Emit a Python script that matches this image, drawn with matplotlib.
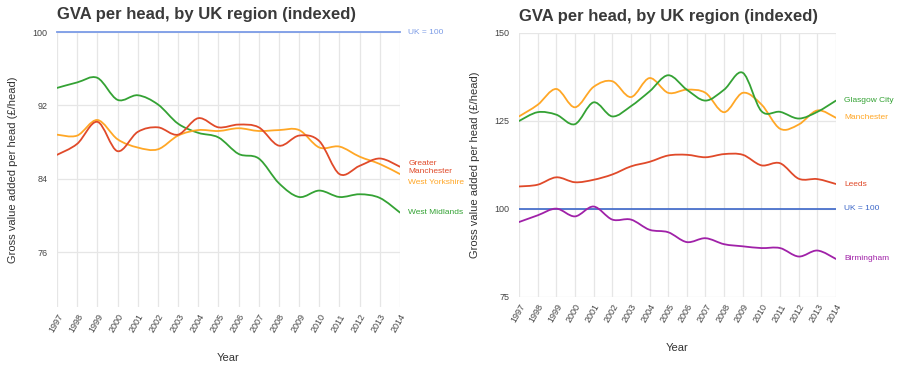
import numpy as np
import matplotlib
matplotlib.use("Agg")
import matplotlib.pyplot as plt
from matplotlib.path import Path
from matplotlib.patches import PathPatch

plt.rcParams['font.family'] = ['Liberation Sans', 'DejaVu Sans']

years = list(range(1997, 2015))

# Gráfico izquierdo: regiones
west_midlands = [93.9, 94.5, 95.0, 92.6, 93.1, 92.1, 90.0, 89.0, 88.5, 86.7,
                 86.2, 83.5, 82.0, 82.7, 82.0, 82.3, 81.9, 80.3]
greater_manchester = [86.6, 87.8, 90.2, 87.0, 89.1, 89.6, 88.8, 90.6, 89.6, 89.9,
                      89.6, 87.6, 88.7, 88.1, 84.5, 85.4, 86.2, 85.3]
west_yorkshire = [88.8, 88.7, 90.4, 88.3, 87.4, 87.2, 88.7, 89.3, 89.2, 89.5,
                  89.2, 89.3, 89.3, 87.4, 87.5, 86.4, 85.6, 84.5]

# Gráfico derecho: ciudades
glasgow = [125.0, 127.5, 126.8, 124.1, 130.3, 126.3, 129.2, 133.4, 138.0, 133.9,
           130.8, 133.9, 138.7, 127.8, 127.6, 125.7, 127.6, 130.8]
manchester = [126.3, 129.6, 134.1, 128.9, 134.7, 136.3, 131.8, 137.2, 133.0, 133.9,
              133.0, 127.5, 133.0, 129.7, 122.8, 124.0, 128.0, 125.9]
leeds = [106.4, 106.9, 109.0, 107.6, 108.3, 109.8, 112.1, 113.4, 115.2, 115.4,
         114.7, 115.6, 115.4, 112.4, 113.0, 108.6, 108.5, 107.1]
birmingham = [96.3, 98.2, 100.1, 97.9, 100.7, 97.0, 97.0, 94.1, 93.4, 90.6,
              91.7, 90.0, 89.4, 88.9, 88.9, 86.5, 88.2, 85.8]

UK = 100

GREEN = '#34a234'
RED = '#e04a2a'
ORANGE = '#ffa726'
PURPLE = '#a021a8'
GRID = '#e6e6e6'
TXT = '#444444'


def smooth_line(ax, x, y, color, lw=1.3):
    # curva tipo "function" de Google Charts: Béziers cúbicas entre puntos
    pts = np.column_stack([x, y]).astype(float)
    n = len(pts)
    verts = [pts[0]]
    codes = [Path.MOVETO]
    for i in range(n - 1):
        p0 = pts[max(i - 1, 0)]
        p1 = pts[i]
        p2 = pts[i + 1]
        p3 = pts[min(i + 2, n - 1)]
        c1 = p1 + (p2 - p0) / 6.0
        c2 = p2 - (p3 - p1) / 6.0
        verts += [c1, c2, p2]
        codes += [Path.CURVE4] * 3
    patch = PathPatch(Path(verts, codes), facecolor='none', edgecolor=color,
                      lw=lw, capstyle='round', joinstyle='round', zorder=3)
    ax.add_patch(patch)


def style_axes(ax, ylim, yticks):
    ax.set_xlim(years[0], years[-1])
    ax.set_ylim(*ylim)
    ax.set_xticks(years)
    ax.set_xticklabels([str(y) for y in years], rotation=60, ha='right',
                       rotation_mode='anchor', fontsize=6.5, color=TXT)
    ax.set_yticks(yticks)
    ax.set_yticklabels([str(v) for v in yticks], fontsize=6.5, color=TXT)
    ax.tick_params(length=0, pad=7)
    ax.tick_params(axis='x', pad=4)
    for s in ax.spines.values():
        s.set_visible(False)
    ax.grid(True, color=GRID, lw=0.9)
    ax.set_axisbelow(True)
    ax.set_xlabel("Year", fontsize=8, color='#333333', labelpad=13)
    ax.set_ylabel("Gross value added per head (£/head)", fontsize=8,
                  color='#333333', labelpad=10)


def end_label(ax, text, yval, color, dy=0.0):
    ax.annotate(text, xy=(years[-1], yval + dy), xytext=(6, 0),
                textcoords='offset points', va='center', ha='left',
                fontsize=6, color=color, annotation_clip=False)


fig = plt.figure(figsize=(9, 3.69), dpi=100)

# ---- izquierda ----
ax1 = fig.add_axes([57 / 900, 1 - 307 / 369, 343 / 900, 275 / 369])
style_axes(ax1, (70, 100), [76, 84, 92, 100])
ax1.axhline(UK, color='#7b9be6', lw=1.3, zorder=2, clip_on=False)
smooth_line(ax1, years, west_midlands, GREEN)
smooth_line(ax1, years, west_yorkshire, ORANGE)
smooth_line(ax1, years, greater_manchester, RED)
end_label(ax1, "UK = 100", UK, '#7b9be6')
end_label(ax1, "Greater\nManchester", greater_manchester[-1], RED, dy=-0.1)
end_label(ax1, "West Yorkshire", west_yorkshire[-1], ORANGE, dy=-0.9)
end_label(ax1, "West Midlands", west_midlands[-1], GREEN)
fig.text(57 / 900, 1 - 14 / 369, "GVA per head, by UK region (indexed)",
         fontsize=12, fontweight='bold', color='#3a3a3a', va='center', ha='left')

# ---- derecha ----
ax2 = fig.add_axes([519 / 900, 1 - 297 / 369, 317 / 900, 264 / 369])
style_axes(ax2, (75, 150), [75, 100, 125, 150])
ax2.axhline(UK, color='#3b66c8', lw=1.2, zorder=2)
smooth_line(ax2, years, leeds, RED)
smooth_line(ax2, years, birmingham, PURPLE)
smooth_line(ax2, years, manchester, ORANGE)
smooth_line(ax2, years, glasgow, GREEN)
end_label(ax2, "Glasgow City", glasgow[-1], GREEN)
end_label(ax2, "Manchester", manchester[-1], ORANGE)
end_label(ax2, "Leeds", leeds[-1], RED)
end_label(ax2, "UK = 100", UK, '#3b66c8')
end_label(ax2, "Birmingham", birmingham[-1], PURPLE)
fig.text(519 / 900, 1 - 16 / 369, "GVA per head, by UK region (indexed)",
         fontsize=12, fontweight='bold', color='#3a3a3a', va='center', ha='left')

fig.savefig("out.png", dpi=100, facecolor='white')
